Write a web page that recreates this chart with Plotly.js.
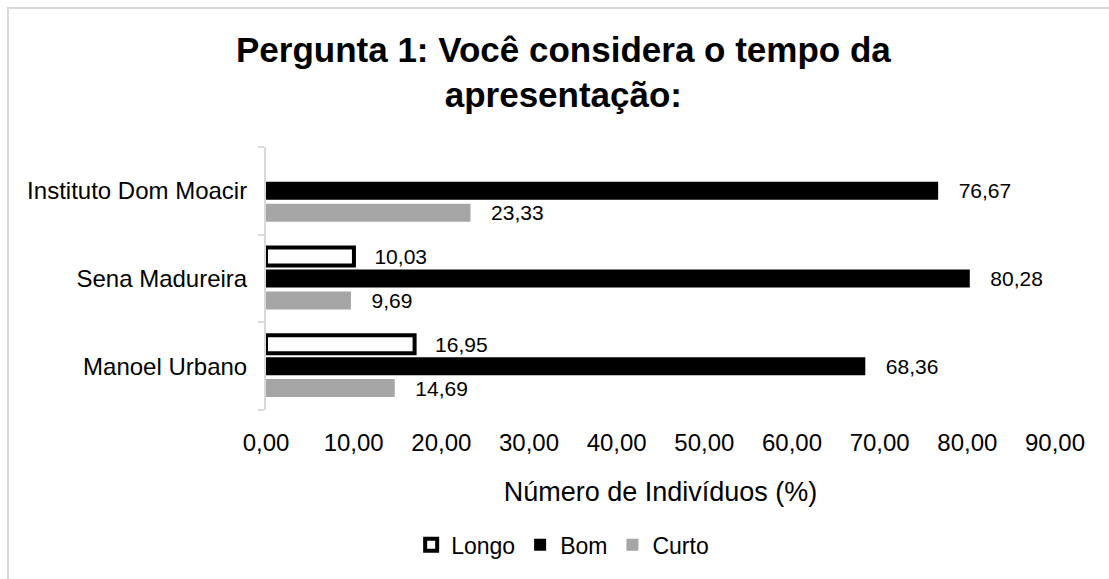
<!DOCTYPE html>
<html>
<head>
<meta charset="utf-8">
<script src="https://cdn.plot.ly/plotly-3.0.1.min.js"></script>
<style>
  html, body { margin: 0; padding: 0; background: #fff; overflow: hidden; }
  #wrap { position: relative; width: 1109px; height: 579px; }
  #chart { position: absolute; left: 0; top: 0; width: 1109px; height: 579px; }
  #frame { position: absolute; left: 7px; top: 7px; width: 1130px; height: 600px;
           border: 2px solid #d9d9d9; pointer-events: none; }
</style>
</head>
<body>
<div id="wrap">
  <div id="chart"></div>
  <div id="frame"></div>
</div>
<script>
// Categories listed bottom to top, as drawn
const categories = ["Manoel Urbano", "Sena Madureira", "Instituto Dom Moacir"];
const seriesNames = ["Longo", "Bom", "Curto"];
const longo = [16.95, 10.03, null];
const bom   = [68.36, 80.28, 76.67];
const curto = [14.69, 9.69, 23.33];
const xTicks = [0, 10, 20, 30, 40, 50, 60, 70, 80, 90];

const labelFont = { family: "Liberation Sans, Arial, sans-serif", size: 21, color: "#000" };
const tmpl = "\u00a0\u00a0\u00a0%{x:.2f}";

const traces = [
  {
    type: "bar", orientation: "h", name: seriesNames[2],
    y: categories, x: curto,
    marker: { color: "#a6a6a6" },
    texttemplate: tmpl, textposition: "outside", textfont: labelFont,
    cliponaxis: false, constraintext: "none", hoverinfo: "skip"
  },
  {
    type: "bar", orientation: "h", name: seriesNames[1],
    y: categories, x: bom,
    marker: { color: "#000000" },
    texttemplate: tmpl, textposition: "outside", textfont: labelFont,
    cliponaxis: false, constraintext: "none", hoverinfo: "skip"
  },
  {
    type: "bar", orientation: "h", name: seriesNames[0],
    y: categories, x: longo,
    marker: { color: "#ffffff", line: { color: "#000000", width: 4 } },
    texttemplate: tmpl, textposition: "outside", textfont: labelFont,
    cliponaxis: false, constraintext: "none", hoverinfo: "skip"
  }
];

const layout = {
  width: 1109, height: 579,
  margin: { l: 266, r: 54, t: 147, b: 169, pad: 0 },
  paper_bgcolor: "#ffffff", plot_bgcolor: "#ffffff",
  separators: ",.",
  font: { family: "Liberation Sans, Arial, sans-serif", color: "#000" },
  title: {
    text: "<b>Pergunta 1: Você considera o tempo da<br>apresentação:</b>",
    font: { family: "Liberation Sans, Arial, sans-serif", size: 35, color: "#000" },
    x: 0.508, xanchor: "center", xref: "container",
    y: 0.893, yanchor: "top", yref: "container"
  },
  barmode: "group",
  bargap: 0.25,
  bargroupgap: 0.18,
  xaxis: {
    range: [0, 90],
    tickvals: xTicks,
    tickformat: ".2f",
    showgrid: false, zeroline: false, showline: false,
    ticks: "", ticklabelstandoff: 16,
    tickfont: { family: "Liberation Sans, Arial, sans-serif", size: 24, color: "#000" },
    title: {
      text: "Número de Indivíduos (%)",
      font: { family: "Liberation Sans, Arial, sans-serif", size: 27, color: "#000" },
      standoff: 27
    },
    automargin: false, fixedrange: true
  },
  yaxis: {
    type: "category",
    categoryorder: "array", categoryarray: categories,
    showgrid: false, zeroline: false,
    showline: true, linecolor: "#d9d9d9", linewidth: 2,
    ticks: "outside", tickson: "boundaries", ticklen: 6, tickcolor: "#d9d9d9", tickwidth: 2,
    ticklabelstandoff: 12,
    tickfont: { family: "Liberation Sans, Arial, sans-serif", size: 24, color: "#000" },
    automargin: false, fixedrange: true
  },
  showlegend: true,
  legend: {
    orientation: "h", traceorder: "reversed",
    x: 0.376, xanchor: "center", xref: "paper",
    y: -0.513, yanchor: "middle", yref: "paper",
    font: { family: "Liberation Sans, Arial, sans-serif", size: 23, color: "#000" },
    itemwidth: 30, bgcolor: "rgba(0,0,0,0)"
  }
};

Plotly.newPlot("chart", traces, layout, { displayModeBar: false, staticPlot: true });
</script>
</body>
</html>
